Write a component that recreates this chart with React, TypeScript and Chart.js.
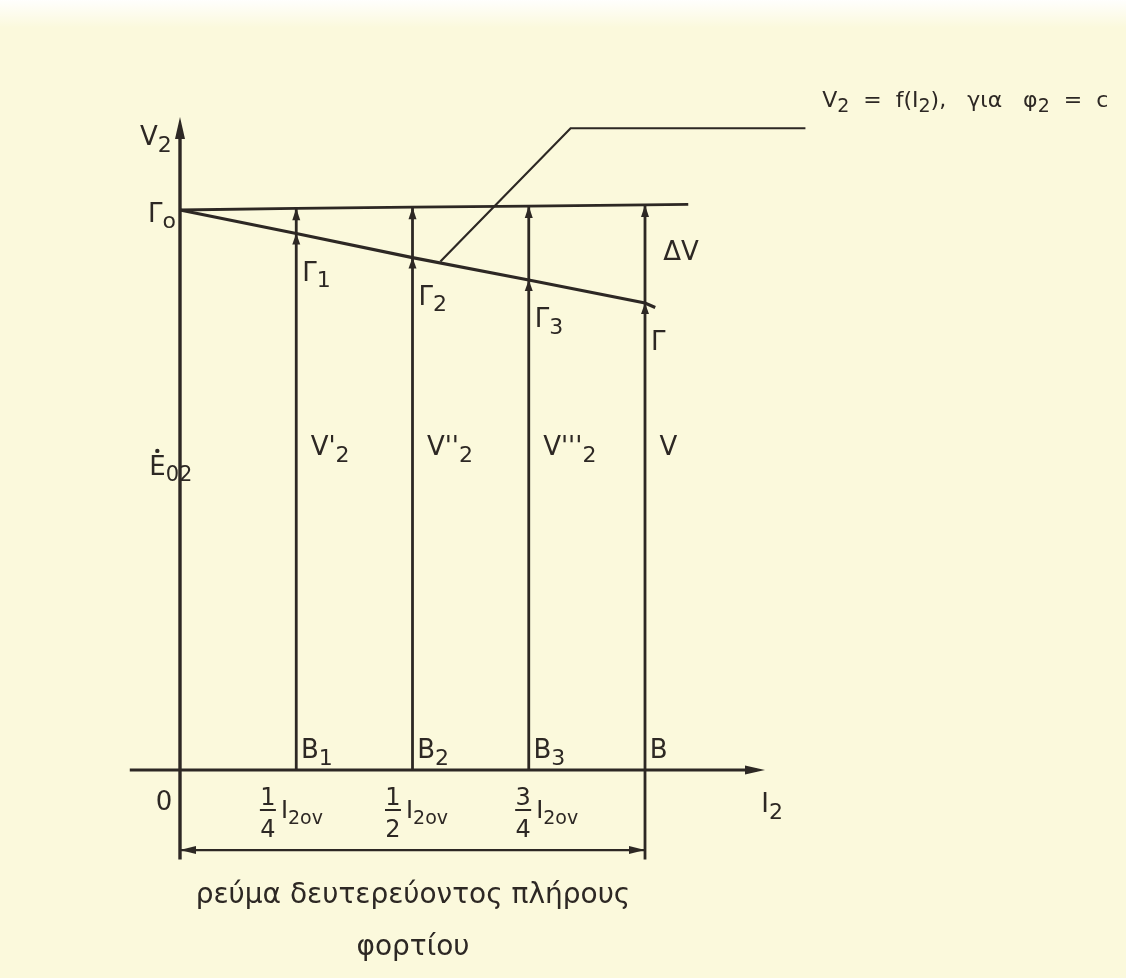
import React, { useEffect, useRef } from "react";
import { Chart, registerables } from "chart.js";

Chart.register(...registerables);

// Load fractions of rated secondary current I2ov
const loadX = [0, 0.25, 0.5, 0.75, 1, 1.022];
// No-load voltage E02 (upper line), per unit
const noLoadX = [0, 0.25, 0.5, 0.75, 1, 1.093];
const noLoadV = [1, 1.003, 1.005, 1.007, 1.009, 1.01];
// Terminal voltage V2 under load (Γo, Γ1, Γ2, Γ3, Γ), per unit
const loadV = [1, 0.958, 0.915, 0.875, 0.834, 0.826];
// Vertical ordinates B1..B
const ordinateX = [0.25, 0.5, 0.75, 1];
const ordinateNames = ["B1", "B2", "B3", "B"];
const gammaNames = ["Γ1", "Γ2", "Γ3", "Γ"];
const voltNames = ["V'", "V''", "V'''", "V"];
const voltSubs = ["2", "2", "2", ""];
// fraction tick labels under the I2 axis
const fracX = [0.189, 0.458, 0.738];
const fracNum = ["1", "1", "3"];
const fracDen = ["4", "2", "4"];

const INK = "#2d2824";
const PAPER = "#fbf9dc";
const FONT = "'DejaVu Sans', 'Liberation Sans', Arial, sans-serif";

export default function App() {
  const ref = useRef<HTMLCanvasElement | null>(null);

  useEffect(() => {
    const canvas = ref.current;
    if (!canvas) return;

    const line = (pts: { x: number; y: number }[], w = 2.6) => ({
      data: pts,
      showLine: true,
      borderColor: INK,
      borderWidth: w,
      pointRadius: 0,
      fill: false,
      tension: 0,
    });

    const datasets: any[] = [];
    // axes
    datasets.push(line([{ x: -0.108, y: 0 }, { x: 1.24, y: 0 }], 3));
    datasets.push(line([{ x: 0, y: -0.16 }, { x: 0, y: 1.15 }], 3.4));
    // no-load line
    datasets.push(line(noLoadX.map((x, i) => ({ x, y: noLoadV[i] })), 2.8));
    // loaded line
    datasets.push(line(loadX.map((x, i) => ({ x, y: loadV[i] })), 3.2));
    // ordinates
    ordinateX.forEach((x, i) => {
      const low = i === ordinateX.length - 1 ? -0.16 : 0;
      datasets.push(line([{ x, y: low }, { x, y: noLoadV[i + 1] }], 2.8));
    });
    // dimension line
    datasets.push(line([{ x: 0, y: -0.143 }, { x: 1, y: -0.143 }], 2.2));
    // callout leader
    datasets.push(
      line(
        [
          { x: 0.56, y: 0.908 },
          { x: 0.84, y: 1.146 },
          { x: 1.345, y: 1.146 },
        ],
        2.2
      )
    );

    const arrow = (ctx: CanvasRenderingContext2D, x: number, y: number, ang: number, len: number, half: number) => {
      ctx.save();
      ctx.translate(x, y);
      ctx.rotate(ang);
      ctx.beginPath();
      ctx.moveTo(0, 0);
      ctx.lineTo(-len, -half);
      ctx.lineTo(-len, half);
      ctx.closePath();
      ctx.fill();
      ctx.restore();
    };

    type Part = { t: string; sub?: boolean };
    const rich = (
      ctx: CanvasRenderingContext2D,
      parts: Part[],
      x: number,
      y: number,
      size: number,
      align: "left" | "center" = "left",
      subScale = 0.85
    ) => {
      const subSize = Math.round(size * subScale);
      let total = 0;
      parts.forEach((p) => {
        ctx.font = `${p.sub ? subSize : size}px ${FONT}`;
        total += ctx.measureText(p.t).width;
      });
      let cx = align === "center" ? x - total / 2 : x;
      ctx.textAlign = "left";
      ctx.textBaseline = "alphabetic";
      parts.forEach((p) => {
        ctx.font = `${p.sub ? subSize : size}px ${FONT}`;
        ctx.fillText(p.t, cx, p.sub ? y + size * 0.25 : y);
        cx += ctx.measureText(p.t).width;
      });
      return total;
    };

    const diagram = {
      id: "diagram",
      beforeDraw(chart: any) {
        const c = chart.ctx as CanvasRenderingContext2D;
        c.save();
        c.fillStyle = PAPER;
        c.fillRect(0, 0, chart.width, chart.height);
        const g = c.createLinearGradient(0, 0, 0, 28);
        g.addColorStop(0, "rgba(255,255,255,0.95)");
        g.addColorStop(1, "rgba(255,255,255,0)");
        c.fillStyle = g;
        c.fillRect(0, 0, chart.width, 28);
        c.restore();
      },
      afterDatasetsDraw(chart: any) {
        const c = chart.ctx as CanvasRenderingContext2D;
        const xs = chart.scales.x;
        const ys = chart.scales.y;
        const X = (v: number) => xs.getPixelForValue(v);
        const Y = (v: number) => ys.getPixelForValue(v);
        c.save();
        c.fillStyle = INK;
        // axis arrows
        arrow(c, X(0), Y(1.166), -Math.PI / 2, 22, 5);
        arrow(c, X(1.258), Y(0), 0, 20, 4.5);
        // ordinate arrows at the upper line and at the Γ points
        ordinateX.forEach((x, i) => {
          arrow(c, X(x), Y(noLoadV[i + 1]), -Math.PI / 2, 12, 4);
          arrow(c, X(x), Y(loadV[i + 1]), -Math.PI / 2, 11, 4);
        });
        // dimension arrows
        arrow(c, X(0), Y(-0.143), Math.PI, 16, 4);
        arrow(c, X(1), Y(-0.143), 0, 16, 4);

        const S = 26;
        rich(c, [{ t: "V" }, { t: "2", sub: true }], X(-0.086), Y(1.116), S);
        rich(c, [{ t: "Γ" }, { t: "o", sub: true }], X(-0.069), Y(0.979), S);
        rich(c, [{ t: "E" }, { t: "02", sub: true }], X(-0.066), Y(0.527), S, "left", 0.8);
        // dot over E
        c.beginPath();
        c.arc(X(-0.066) + 8, Y(0.527) - 24, 2.2, 0, Math.PI * 2);
        c.fill();
        rich(c, [{ t: "0" }], X(-0.052), Y(-0.071), S);
        rich(c, [{ t: "I" }, { t: "2", sub: true }], X(1.25), Y(-0.075), S);
        rich(c, [{ t: "ΔV" }], X(1.039), Y(0.911), S);

        ordinateX.forEach((x, i) => {
          const nm = gammaNames[i];
          const gp: Part[] = nm.length > 1 ? [{ t: nm[0] }, { t: nm.slice(1), sub: true }] : [{ t: nm }];
          rich(c, gp, X(x + 0.013), Y(loadV[i + 1] - 0.084), S);
          const bn = ordinateNames[i];
          const bp: Part[] = bn.length > 1 ? [{ t: bn[0] }, { t: bn.slice(1), sub: true }] : [{ t: bn }];
          rich(c, bp, X(x + 0.01), Y(0.021), S);
          const vp: Part[] = [{ t: voltNames[i] }];
          if (voltSubs[i]) vp.push({ t: voltSubs[i], sub: true });
          rich(c, vp, X(x + 0.031), Y(0.562), S);
        });

        // fractions under the axis
        fracX.forEach((fx, i) => {
          const cx = X(fx);
          c.font = `24px ${FONT}`;
          c.textAlign = "center";
          c.fillText(fracNum[i], cx, Y(-0.0625));
          c.fillText(fracDen[i], cx, Y(-0.12));
          c.lineWidth = 2;
          c.strokeStyle = INK;
          c.beginPath();
          c.moveTo(cx - 8, Y(-0.0714));
          c.lineTo(cx + 8, Y(-0.0714));
          c.stroke();
          rich(c, [{ t: "I" }, { t: "2ov", sub: true }], cx + 13, Y(-0.086), 24, "left", 0.78);
        });

        // callout text
        rich(
          c,
          [
            { t: "V" },
            { t: "2", sub: true },
            { t: "  =  f(I" },
            { t: "2", sub: true },
            { t: "),   για   φ" },
            { t: "2", sub: true },
            { t: "  =  c" },
          ],
          X(1.381),
          Y(1.184),
          22
        );

        // bottom caption
        rich(c, [{ t: "ρεύμα δευτερεύοντος πλήρους" }], X(0.501), Y(-0.2375), 28, "center");
        rich(c, [{ t: "φορτίου" }], X(0.501), Y(-0.33), 28, "center");
        c.restore();
      },
    };

    const chart = new Chart(canvas, {
      type: "scatter",
      data: { datasets },
      options: {
        animation: false,
        responsive: false,
        maintainAspectRatio: false,
        devicePixelRatio: 1,
        layout: { padding: 0 },
        plugins: { legend: { display: false }, tooltip: { enabled: false }, title: { display: false } },
        events: [],
        scales: {
          x: { type: "linear", display: false, min: -0.3871, max: 2.0344 },
          y: { type: "linear", display: false, min: -0.3714, max: 1.375 },
        },
      },
      plugins: [diagram],
    } as any);

    return () => chart.destroy();
  }, []);

  return (
    <div style={{ position: "absolute", left: 0, top: 0, width: 1126, height: 978, background: PAPER }}>
      <canvas ref={ref} width={1126} height={978} style={{ display: "block", width: 1126, height: 978 }} />
    </div>
  );
}
